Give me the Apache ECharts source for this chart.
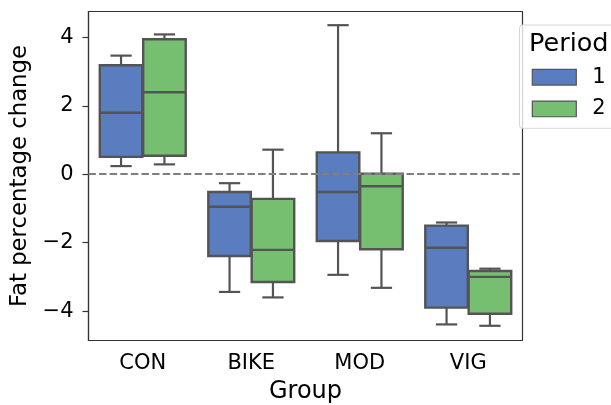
<!DOCTYPE html>
<html>
<head>
<meta charset="utf-8">
<style>
  html, body { margin: 0; padding: 0; background: #ffffff; }
  #chart { width: 611px; height: 405px; }
</style>
<script src="https://cdn.jsdelivr.net/npm/echarts@6/dist/echarts.min.js"></script>
</head>
<body>
<div id="chart"></div>
<script>
// Groups on the x axis
const categories = ['CON', 'BIKE', 'MOD', 'VIG'];
// Box statistics per group: [lower whisker, Q1, median, Q3, upper whisker]
const period1 = [
  [0.24, 0.51, 1.80, 3.19, 3.47],
  [-3.44, -2.39, -0.95, -0.52, -0.26],
  [-2.94, -1.95, -0.52, 0.64, 4.36],
  [-4.39, -3.90, -2.15, -1.50, -1.41]
];
const period2 = [
  [0.29, 0.54, 2.40, 3.95, 4.09],
  [-3.60, -3.15, -2.21, -0.72, 0.72],
  [-3.32, -2.19, -0.35, 0.02, 1.20],
  [-4.43, -4.08, -3.00, -2.83, -2.76]
];
const periodNames = ['1', '2'];
const yTicks = [-4, -2, 0, 2, 4];
const referenceLevel = 0;

const FONT = 'DejaVu Sans';
const LINE = '#545454';
const fills = ['#597dbf', '#76bf71'];

// Each group band holds two dodged boxes, each 0.392 of the band wide
function boxRenderer(slot) {
  return function (params, api) {
    const idx = api.value(0);
    const band = api.size([1, 0])[0];
    const w = band * 0.392;
    const cx = api.coord([idx, 0])[0] + (slot === 0 ? -0.2 : 0.2) * band;
    const y = v => api.coord([idx, v])[1];
    const yMin = y(api.value(1)), yQ1 = y(api.value(2)), yMed = y(api.value(3));
    const yQ3 = y(api.value(4)), yMax = y(api.value(5));
    const capHalf = w / 4;
    const ls = { stroke: LINE, lineWidth: 2.2 };
    return {
      type: 'group',
      children: [
        { type: 'line', shape: { x1: cx, y1: yQ1, x2: cx, y2: yMin }, style: ls },
        { type: 'line', shape: { x1: cx, y1: yQ3, x2: cx, y2: yMax }, style: ls },
        { type: 'line', shape: { x1: cx - capHalf, y1: yMin, x2: cx + capHalf, y2: yMin }, style: ls },
        { type: 'line', shape: { x1: cx - capHalf, y1: yMax, x2: cx + capHalf, y2: yMax }, style: ls },
        { type: 'rect', shape: { x: cx - w / 2, y: yQ3, width: w, height: yQ1 - yQ3 },
          style: { fill: fills[slot], stroke: LINE, lineWidth: 2.4 } },
        { type: 'line', shape: { x1: cx - w / 2, y1: yMed, x2: cx + w / 2, y2: yMed }, style: { stroke: LINE, lineWidth: 2.4 } }
      ]
    };
  };
}

// Horizontal dashed reference line across the whole plotting area
function refLineRenderer(params, api) {
  const cs = params.coordSys;
  const yy = Math.round(api.coord([0, api.value(1)])[1]);
  return {
    type: 'line',
    shape: { x1: cs.x, y1: yy, x2: cs.x + cs.width, y2: yy },
    style: { stroke: '#7f7f7f', lineWidth: 2, lineDash: [7.4, 3.2] }
  };
}

function toData(stats) {
  return stats.map((s, i) => [i].concat(s));
}

const chart = echarts.init(document.getElementById('chart'), null, { renderer: 'canvas' });

chart.setOption({
  animation: false,
  textStyle: { fontFamily: FONT, color: '#000' },
  grid: {
    left: 88.5, right: 88.5, top: 11.5, bottom: 64.5,
    containLabel: false, outerBoundsMode: 'none',
    show: true, borderColor: '#333', borderWidth: 1.2, backgroundColor: 'transparent'
  },
  title: {
    text: 'Period',
    left: 529, top: 31, padding: 0,
    textStyle: { fontFamily: FONT, fontSize: 25.5, fontWeight: 'normal', color: '#000' }
  },
  legend: {
    data: periodNames,
    orient: 'vertical',
    left: 531.7, top: 66.7, padding: 0,
    itemWidth: 44, itemHeight: 15.7, itemGap: 10.7,
    icon: 'rect',
    itemStyle: { borderColor: LINE, borderWidth: 1.2 },
    textStyle: { fontFamily: FONT, fontSize: 21, color: '#000', padding: [0, 0, 0, 11] },
    z: 6
  },
  graphic: [
    {
      type: 'rect', z: 3, silent: true,
      shape: { x: 519.5, y: 25, width: 110, height: 103.3, r: 3 },
      style: { fill: 'rgba(255,255,255,0.8)', stroke: '#d6d6d6', lineWidth: 1 }
    }
  ],
  xAxis: {
    type: 'category',
    data: categories,
    name: 'Group',
    nameLocation: 'middle',
    nameGap: 39.5,
    nameTextStyle: { fontFamily: FONT, fontSize: 24, color: '#000' },
    axisLine: { onZero: false, lineStyle: { color: '#333', width: 1.2 } },
    axisTick: { alignWithLabel: true, length: 6, lineStyle: { color: '#333', width: 1.2 } },
    axisLabel: { fontFamily: FONT, fontSize: 21, color: '#000', margin: 13 },
    splitLine: { show: false }
  },
  yAxis: {
    type: 'value',
    min: -4.86, max: 4.76,
    name: 'Fat percentage change',
    nameLocation: 'middle',
    nameGap: 50,
    nameTextStyle: { fontFamily: FONT, fontSize: 22.8, color: '#000' },
    axisLine: { show: true, onZero: false, lineStyle: { color: '#333', width: 1.2 } },
    axisTick: { show: true, length: 6, customValues: yTicks, lineStyle: { color: '#333', width: 1.2 } },
    axisLabel: {
      fontFamily: FONT, fontSize: 21, color: '#000', margin: 15,
      customValues: yTicks,
      formatter: v => (v < 0 ? '\u2212' + Math.abs(v) : String(v))
    },
    splitLine: { show: false }
  },
  series: [
    {
      name: periodNames[0],
      type: 'custom',
      color: fills[0],
      itemStyle: { color: fills[0] },
      renderItem: boxRenderer(0),
      encode: { x: 0, y: [1, 2, 3, 4, 5] },
      data: toData(period1)
    },
    {
      name: periodNames[1],
      type: 'custom',
      color: fills[1],
      itemStyle: { color: fills[1] },
      renderItem: boxRenderer(1),
      encode: { x: 0, y: [1, 2, 3, 4, 5] },
      data: toData(period2)
    },
    {
      name: 'reference',
      type: 'custom',
      silent: true,
      z: 5,
      renderItem: refLineRenderer,
      encode: { x: 0, y: 1 },
      data: [[0, referenceLevel]]
    }
  ]
});
</script>
</body>
</html>
